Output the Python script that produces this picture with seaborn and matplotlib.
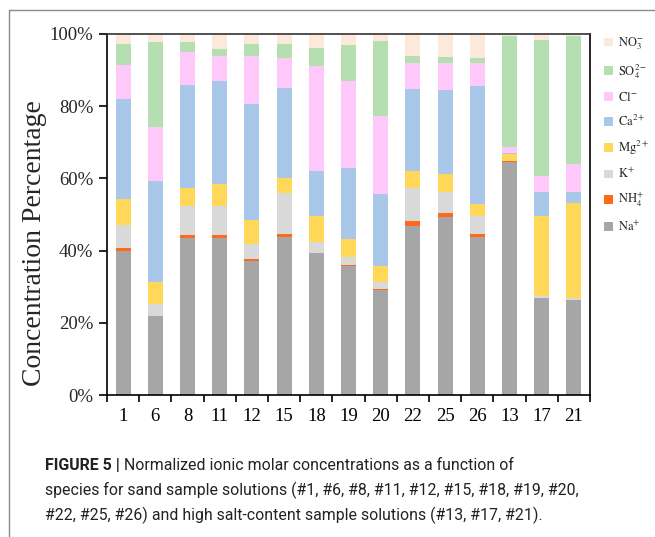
import matplotlib
matplotlib.use("Agg")
import matplotlib.pyplot as plt
from matplotlib.patches import Patch
from matplotlib.lines import Line2D
import numpy as np
import pandas as pd
import seaborn as sns

# Sample IDs (sand samples followed by high salt-content samples)
samples = ["1", "6", "8", "11", "12", "15", "18", "19", "20", "22", "25", "26", "13", "17", "21"]

# Normalized molar percentages per ion (bottom of the stack first)
na = [40.0, 21.8, 43.5, 43.5, 37.0, 43.9, 39.2, 35.7, 29.2, 46.7, 49.4, 43.7, 64.6, 26.9, 26.3]
nh4 = [0.6, 0.2, 0.7, 0.9, 0.8, 0.7, 0.2, 0.3, 0.3, 1.4, 1.1, 0.8, 0.1, 0.0, 0.0]
k = [6.6, 3.1, 8.2, 8.0, 3.9, 11.4, 3.0, 2.1, 1.7, 9.2, 5.8, 5.0, 0.1, 0.4, 0.7]
mg = [7.2, 6.1, 5.0, 6.1, 6.8, 4.1, 7.1, 5.2, 4.6, 4.8, 5.0, 3.4, 2.0, 22.2, 26.1]
ca = [27.5, 28.0, 28.4, 28.4, 32.0, 25.0, 12.5, 19.6, 19.8, 22.6, 23.1, 32.7, 0.2, 6.8, 3.2]
cl = [9.5, 14.9, 9.3, 7.1, 13.4, 8.3, 29.2, 24.0, 21.7, 7.4, 7.5, 6.3, 1.8, 4.3, 7.6]
so4 = [5.7, 23.8, 2.6, 1.8, 3.4, 3.9, 5.0, 10.0, 20.7, 1.9, 1.7, 1.5, 30.6, 37.7, 35.5]
no3 = [2.9, 2.1, 2.3, 4.2, 2.7, 2.7, 3.8, 3.1, 2.0, 6.0, 6.4, 6.6, 0.6, 1.7, 0.6]

ions = ["Na", "NH4", "K", "Mg", "Ca", "Cl", "SO4", "NO3"]
ion_labels = [r"$\mathrm{Na^{+}}$", r"$\mathrm{NH_4^{+}}$", r"$\mathrm{K^{+}}$",
              r"$\mathrm{Mg^{2+}}$", r"$\mathrm{Ca^{2+}}$", r"$\mathrm{Cl^{-}}$",
              r"$\mathrm{SO_4^{2-}}$", r"$\mathrm{NO_3^{-}}$"]
ion_colors = ["#a6a6a6", "#ff6a1a", "#d9d9d9", "#ffd85a", "#a9c7e8", "#ffc8fa",
              "#b5dfb0", "#fde9da"]

sns.set_theme(style="white")
plt.rcParams["font.family"] = ["Liberation Serif", "DejaVu Serif"]
plt.rcParams["mathtext.fontset"] = "stix"

df = pd.DataFrame({"sample": samples, "Na": na, "NH4": nh4, "K": k, "Mg": mg,
                   "Ca": ca, "Cl": cl, "SO4": so4, "NO3": no3})
cum = df[ions].cumsum(axis=1)
# normalise each column stack to exactly 100 %
cum = cum.div(cum["NO3"], axis=0) * 100
cum["sample"] = df["sample"]

fig = plt.figure(figsize=(6.55, 5.37), dpi=100)
ax = fig.add_axes([0.1634, 0.2644, 0.7374, 0.6723])

# draw cumulative totals from the top layer down so lower layers cover upper ones
for ion, color in zip(reversed(ions), reversed(ion_colors)):
    sns.barplot(data=cum, x="sample", y=ion, order=samples, color=color,
                width=0.47, saturation=1, linewidth=0, ax=ax, errorbar=None)

ax.set_xlim(-0.5, len(samples) - 0.5)
ax.set_ylim(0, 100)
ax.set_yticks([0, 20, 40, 60, 80, 100])
ax.set_yticklabels(["0%", "20%", "40%", "60%", "80%", "100%"], fontsize=13.5)
ax.set_xticks(range(len(samples)))
ax.set_xticklabels(samples, fontsize=13.5)
ax.set_xticks(np.arange(-0.5, len(samples), 1.0), minor=True)
ax.tick_params(axis="x", which="major", length=0, pad=9, colors="black")
ax.tick_params(axis="x", which="minor", direction="out", length=5, width=1.2,
               color="black", bottom=True)
ax.tick_params(axis="y", direction="out", length=6, width=1.2, color="black",
               left=True, pad=4)
ax.set_xlabel("")
ax.set_ylabel("Concentration Percentage", fontsize=20)
ax.yaxis.set_label_coords(-0.124, 0.42)
for side in ["left", "bottom", "top", "right"]:
    ax.spines[side].set_visible(True)
    ax.spines[side].set_color("black")
    ax.spines[side].set_linewidth(1.2)
ax.spines["top"].set_color("#333333")

handles = [Patch(facecolor=c, edgecolor="none", label=l)
           for l, c in zip(reversed(ion_labels), reversed(ion_colors))]
fig.legend(handles=handles, loc="upper left", bbox_to_anchor=(0.905, 0.955),
           frameon=False, fontsize=9, handlelength=0.7, handleheight=0.7,
           handletextpad=0.4, labelspacing=0.8)

# page frame around the figure panel
fig.add_artist(Line2D([9 / 655, 1.0], [1 - 10 / 537, 1 - 10 / 537],
                      transform=fig.transFigure, color="#8a8a8a", lw=1))
fig.add_artist(Line2D([9 / 655, 9 / 655], [0, 1 - 10 / 537],
                      transform=fig.transFigure, color="#8a8a8a", lw=1))

# caption
cap_font = ["Roboto", "Liberation Sans", "DejaVu Sans"]
cap_size = 11.4
x0 = 45 / 655
t = fig.text(x0, 1 - 465 / 537, "FIGURE 5 |", family=cap_font, fontsize=cap_size,
             fontweight="bold", va="center", ha="left", color="#222222")
fig.canvas.draw()
bb = t.get_window_extent(fig.canvas.get_renderer())
x1 = (bb.x1 + 4) / fig.bbox.width
fig.text(x1, 1 - 465 / 537, "Normalized ionic molar concentrations as a function of",
         family=cap_font, fontsize=cap_size, va="center", ha="left", color="#222222")
fig.text(x0, 1 - 490 / 537,
         "species for sand sample solutions (#1, #6, #8, #11, #12, #15, #18, #19, #20,",
         family=cap_font, fontsize=cap_size, va="center", ha="left", color="#222222")
fig.text(x0, 1 - 515 / 537,
         "#22, #25, #26) and high salt-content sample solutions (#13, #17, #21).",
         family=cap_font, fontsize=cap_size, va="center", ha="left", color="#222222")

fig.savefig("out.png", dpi=100)
